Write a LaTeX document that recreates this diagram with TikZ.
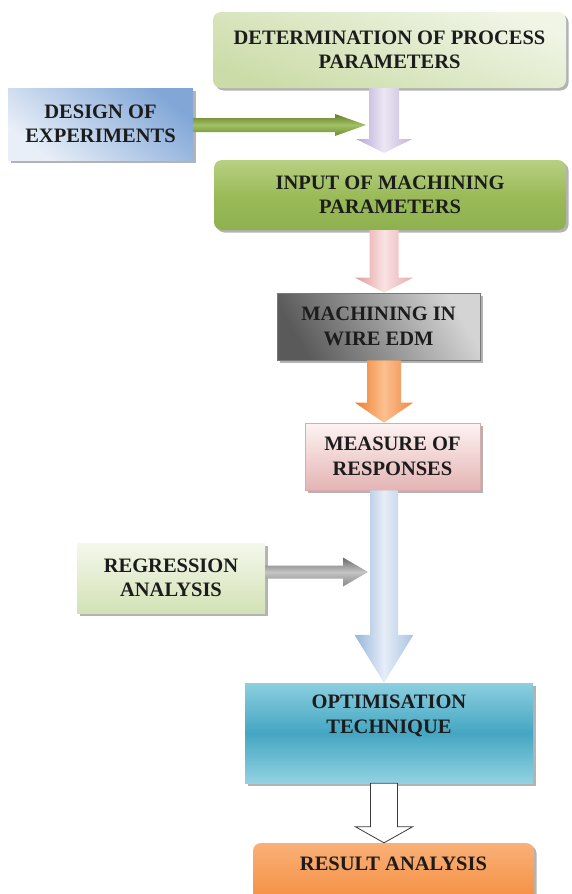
\documentclass[tikz,border=0pt]{standalone}
\usepackage{fontspec}
\setmainfont{Liberation Serif}
\usetikzlibrary{shadows,calc}
\definecolor{txt}{HTML}{1C1C1C}
\tikzset{
  lbl/.style={font=\fontsize{20.5}{24.5}\selectfont\bfseries, align=center, text=txt},
  boxshadow/.style={drop shadow={shadow xshift=2.5pt, shadow yshift=-2.5pt, fill=black!50, opacity=0.6}},
  plainbox/.style={rectangle, inner sep=0pt, lbl, boxshadow},
  roundbox/.style={plainbox, rounded corners=8pt},
}
\newcommand{\vArrow}[6]{%
  \path[#1] let \p1=(#2), \p2=(#3) in
    (384pt-#4pt,\y1) -- (384pt+#4pt,\y1) -- (384pt+#4pt,\y2+#6pt) -- (384pt+#5pt,\y2+#6pt)
    -- (384pt,\y2) -- (384pt-#5pt,\y2+#6pt) -- (384pt-#4pt,\y2+#6pt) -- cycle;}
\newcommand{\hArrow}[6]{%
  \path[#1] let \p1=(#2), \p2=(#3) in
    (\x1,\y2+#4pt) -- (\x2-#6pt,\y2+#4pt) -- (\x2-#6pt,\y2+#5pt) -- (\x2,\y2)
    -- (\x2-#6pt,\y2-#5pt) -- (\x2-#6pt,\y2-#4pt) -- (\x1,\y2-#4pt) -- cycle;}
\begin{document}
\begin{tikzpicture}[x=1pt,y=-1pt]
\useasboundingbox (0,0) rectangle (571,894);

% boxes
\node[roundbox, minimum width=353pt, minimum height=76pt,
      top color={rgb,255:red,240;green,245;blue,230}, bottom color={rgb,255:red,204;green,220;blue,168}, shading angle=-20]
      (det) at (389.5,50) {DETERMINATION OF PROCESS\\PARAMETERS};
\node[plainbox, minimum width=185pt, minimum height=72pt,
      top color={rgb,255:red,130;green,167;blue,215}, bottom color={rgb,255:red,232;green,239;blue,248}, shading angle=-40]
      (des) at (100.5,124) {DESIGN OF\\EXPERIMENTS};
\node[roundbox, minimum width=352pt, minimum height=70pt,
      top color={rgb,255:red,183;green,208;blue,131}, bottom color={rgb,255:red,143;green,176;blue,79}, middle color={rgb,255:red,155;green,187;blue,89}]
      (inp) at (390,195) {INPUT OF MACHINING\\PARAMETERS};
\node[plainbox, minimum width=203pt, minimum height=67pt, draw={rgb,255:red,120;green,120;blue,120}, line width=0.6pt,
      top color={rgb,255:red,212;green,212;blue,212}, bottom color={rgb,255:red,90;green,90;blue,90}, shading angle=-60]
      (mac) at (378.5,326.5) {MACHINING IN\\WIRE EDM};
\node[plainbox, minimum width=175pt, minimum height=67pt, draw={rgb,255:red,220;green,170;blue,170}, line width=0.6pt,
      top color={rgb,255:red,253;green,243;blue,243}, bottom color={rgb,255:red,228;green,180;blue,179}]
      (mea) at (392.5,456.5) {MEASURE OF\\RESPONSES};
\node[plainbox, minimum width=188pt, minimum height=70pt,
      top color={rgb,255:red,244;green,248;blue,236}, bottom color={rgb,255:red,211;green,226;blue,181}]
      (reg) at (171,578) {REGRESSION\\ANALYSIS};
\node[plainbox, minimum width=288pt, minimum height=100pt,
      top color={rgb,255:red,140;green,207;blue,224}, bottom color={rgb,255:red,146;green,210;blue,226}, middle color={rgb,255:red,68;green,166;blue,194}]
      (opt) at (389,733) {};
\node[lbl] (optt) at (389,716) {OPTIMISATION\\TECHNIQUE};
\node[roundbox, minimum width=281pt, minimum height=67pt,
      top color={rgb,255:red,250;green,176;blue,120}, bottom color={rgb,255:red,243;green,138;blue,56}]
      (res) at (393.5,876.5) {};
\node[lbl] (rest) at (393.5,864) {RESULT ANALYSIS};

% arrow tips
\coordinate (t1) at (384,153);
\coordinate (tg) at (366,125);
\coordinate (tr) at (368,572);

% vertical block arrows
\vArrow{left color={rgb,255:red,180;green,164;blue,212}, right color={rgb,255:red,192;green,178;blue,220}, middle color={rgb,255:red,236;green,231;blue,244}}{det.south}{t1}{15}{28}{14}
\vArrow{left color={rgb,255:red,226;green,152;blue,152}, right color={rgb,255:red,232;green,170;blue,170}, middle color={rgb,255:red,249;green,226;blue,226}}{inp.south}{mac.north}{14.5}{29}{15}
\vArrow{left color={rgb,255:red,238;green,124;blue,44}, right color={rgb,255:red,240;green,136;blue,70}, middle color={rgb,255:red,251;green,192;blue,144}}{mac.south}{mea.north}{17}{29}{20}
\vArrow{left color={rgb,255:red,150;green,180;blue,218}, right color={rgb,255:red,170;green,196;blue,226}, middle color={rgb,255:red,230;green,237;blue,247}}{mea.south}{opt.north}{14}{29.5}{48}
\vArrow{fill=white, draw={rgb,255:red,58;green,58;blue,58}, line width=0.8pt}{opt.south}{res.north}{13.5}{28.5}{16}

% horizontal block arrows
\hArrow{top color={rgb,255:red,97;green,125;blue,43}, bottom color={rgb,255:red,108;green,140;blue,50}, middle color={rgb,255:red,162;green,193;blue,99}}{des.east}{tg}{7}{11}{31}
\hArrow{top color={rgb,255:red,105;green,105;blue,105}, bottom color={rgb,255:red,135;green,135;blue,135}, middle color={rgb,255:red,196;green,196;blue,196}}{reg.east}{tr}{6.5}{14.5}{25}
\end{tikzpicture}
\end{document}
